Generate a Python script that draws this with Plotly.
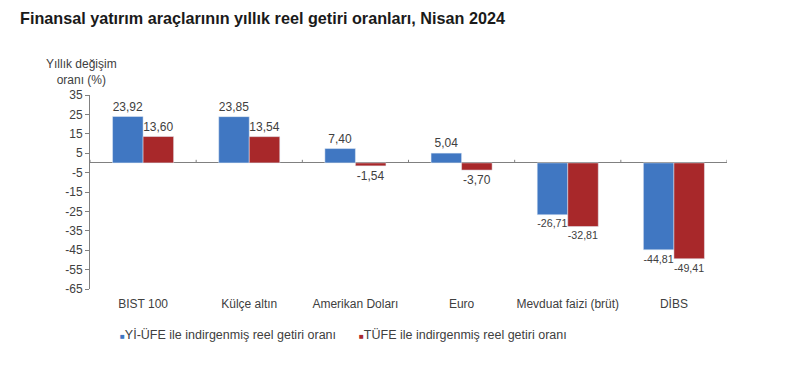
import plotly.graph_objects as go

categories = ["BIST 100", "Külçe altın", "Amerikan Doları", "Euro", "Mevduat faizi (brüt)", "DİBS"]
yi_ufe = [23.92, 23.85, 7.40, 5.04, -26.71, -44.81]
tufe = [13.60, 13.54, -1.54, -3.70, -32.81, -49.41]
y_ticks = [35, 25, 15, 5, -5, -15, -25, -35, -45, -55, -65]
series_names = ["Yİ-ÜFE ile indirgenmiş reel getiri oranı", "TÜFE ile indirgenmiş reel getiri oranı"]
colors = ["#4077C2", "#A8282A"]

def fmt(v):
    return f"{v:.2f}".replace(".", ",")

fig = go.Figure()
for name, vals, col in zip(series_names, [yi_ufe, tufe], colors):
    fig.add_trace(go.Bar(x=categories, y=vals, name=name, marker_color=col,
                         text=[fmt(v) for v in vals], textposition="outside",
                         textfont=dict(size=12, color="#404040"), cliponaxis=False,
                         showlegend=False))

# category boundary tick marks on zero line
for i in range(len(categories) + 1):
    fig.add_shape(type="line", xref="x", yref="y", x0=i - 0.5, x1=i - 0.5, y0=0, y1=1.6,
                  line=dict(color="#808080", width=1))

# legend drawn as text with small coloured squares
legend_x = [0.044, 0.419]
annotations = [dict(text="Yıllık değişim<br>oranı (%)", xref="paper", yref="paper",
                    x=-0.013, y=1.12, xanchor="center", yanchor="middle", showarrow=False,
                    font=dict(size=12, color="#404040"))]
for name, col, lx in zip(series_names, colors, legend_x):
    annotations.append(dict(text=f'<span style="color:{col}; font-size:8px">■</span>{name}',
                            xref="paper", yref="paper", x=lx, y=-0.237, xanchor="left",
                            yanchor="middle", showarrow=False,
                            font=dict(size=12.5, color="#404040")))

fig.update_layout(
    width=800, height=384,
    margin=dict(l=82, r=81, t=87, b=103),
    paper_bgcolor="white", plot_bgcolor="white",
    font=dict(family="Liberation Sans, Arial, sans-serif", color="#404040", size=11),
    title=dict(text="<b>Finansal yatırım araçlarının yıllık reel getiri oranları, Nisan 2024</b>",
               x=12 / 800, xanchor="left", y=1 - 10 / 384, yanchor="middle",
               font=dict(size=16.2, color="#1a1a1a")),
    barmode="group", bargap=0.425, bargroupgap=0,
    annotations=annotations,
)
fig.update_xaxes(showline=False, showgrid=False, zeroline=False, ticks="",
                 tickfont=dict(size=12, color="#404040"), range=[-0.5, 5.5],
                 ticklabelstandoff=6)
fig.update_yaxes(range=[-65, 35], tickmode="array", tickvals=y_ticks, ticktext=[str(v) for v in y_ticks],
                 showgrid=False, showline=True, linecolor="#808080", ticks="outside", ticklen=4,
                 tickcolor="#808080", zeroline=True, zerolinecolor="#808080", zerolinewidth=1,
                 tickfont=dict(size=12, color="#404040"))

fig.write_html("out.html")
